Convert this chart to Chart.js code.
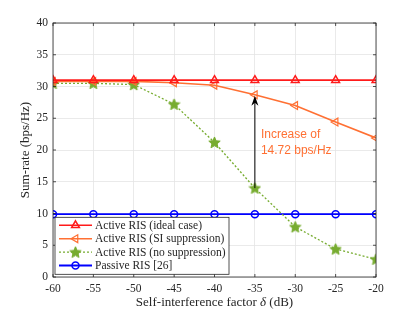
<!DOCTYPE html>
<html>
<head>
<meta charset="utf-8">
<script src="https://cdn.jsdelivr.net/npm/chart.js@4/dist/chart.umd.min.js"></script>
<style>
  html, body { margin: 0; padding: 0; background: #fff; }
  #wrap { width: 415px; height: 312px; }
</style>
</head>
<body>
<div id="wrap"><canvas id="chart" width="415" height="312"></canvas></div>
<script>
// Data
const deltaDb = [-60, -55, -50, -45, -40, -35, -30, -25, -20];
const idealCase = [31.0, 31.0, 31.0, 31.0, 31.0, 31.0, 31.0, 31.0, 31.0];
const siSuppression = [30.8, 30.8, 30.8, 30.6, 30.2, 28.7, 27.0, 24.4, 21.9];
const noSuppression = [30.5, 30.5, 30.3, 27.2, 21.2, 14.0, 7.9, 4.4, 2.8];
const passiveRis = [9.9, 9.9, 9.9, 9.9, 9.9, 9.9, 9.9, 9.9, 9.9];
const xTicks = [-60, -55, -50, -45, -40, -35, -30, -25, -20];
const yTicks = [0, 5, 10, 15, 20, 25, 30, 35, 40];
const seriesLabels = ['Active RIS (ideal case)', 'Active RIS (SI suppression)', 'Active RIS (no suppression)', 'Passive RIS [26]'];
const arrowAt = -35;
const noteLines = ['Increase of', '14.72 bps/Hz'];

const serif = '"Liberation Serif", "DejaVu Serif", serif';
const TXT = '#262626';
const RED = '#ff1a1a', ORANGE = '#ff7033', GREEN = '#77ac30', BLUE = '#0000ff';

function pts(ys) { return deltaDb.map((x, i) => ({ x: x, y: ys[i] })); }

// five-pointed filled star as point style
function makeStar(size, color) {
  const c = document.createElement('canvas');
  c.width = size; c.height = size;
  const g = c.getContext('2d');
  const cx = size / 2, cy = size / 2 + 0.5, ro = size / 2 - 0.5, ri = ro * 0.45;
  g.beginPath();
  for (let k = 0; k < 10; k++) {
    const r = k % 2 ? ri : ro;
    const a = -Math.PI / 2 + k * Math.PI / 5;
    g.lineTo(cx + r * Math.cos(a), cy + r * Math.sin(a));
  }
  g.closePath();
  g.fillStyle = color; g.fill();
  g.strokeStyle = color; g.lineWidth = 1; g.stroke();
  return c;
}
const starImg = makeStar(13, GREEN);

const datasets = [
  { label: seriesLabels[0], data: pts(idealCase), borderColor: RED, backgroundColor: 'rgba(0,0,0,0)',
    borderWidth: 1.6, pointStyle: 'triangle', pointRadius: 4.5, pointBorderWidth: 1.5, pointBorderColor: RED },
  { label: seriesLabels[1], data: pts(siSuppression), borderColor: ORANGE, backgroundColor: 'rgba(0,0,0,0)',
    borderWidth: 1.6, pointStyle: 'triangle', rotation: -90, pointRadius: 4.5, pointBorderWidth: 1.2, pointBorderColor: ORANGE },
  { label: seriesLabels[2], data: pts(noSuppression), borderColor: GREEN, backgroundColor: GREEN,
    borderWidth: 1.3, borderDash: [2, 2], pointStyle: starImg, pointRadius: 6 },
  { label: seriesLabels[3], data: pts(passiveRis), borderColor: BLUE, backgroundColor: 'rgba(0,0,0,0)',
    borderWidth: 1.8, pointStyle: 'circle', pointRadius: 3.5, pointBorderWidth: 1.5, pointBorderColor: BLUE }
];

// frame, axis titles, arrow, annotation and in-plot legend
const extras = {
  id: 'extras',
  afterDatasetsDraw(chart) {
    const ctx = chart.ctx, a = chart.chartArea;
    const xs = chart.scales.x, ys = chart.scales.y;
    ctx.save();
    // frame
    ctx.strokeStyle = TXT; ctx.lineWidth = 0.8;
    ctx.strokeRect(a.left, a.top, a.right - a.left, a.bottom - a.top);
    // inward ticks
    ctx.beginPath();
    xTicks.forEach(v => {
      const px = xs.getPixelForValue(v);
      ctx.moveTo(px, a.bottom); ctx.lineTo(px, a.bottom - 3);
      ctx.moveTo(px, a.top); ctx.lineTo(px, a.top + 3);
    });
    yTicks.forEach(v => {
      const py = ys.getPixelForValue(v);
      ctx.moveTo(a.left, py); ctx.lineTo(a.left + 3, py);
      ctx.moveTo(a.right, py); ctx.lineTo(a.right - 3, py);
    });
    ctx.stroke();

    // axis titles (x title has an italic delta)
    ctx.fillStyle = TXT;
    ctx.textBaseline = 'middle';
    const p1 = 'Self-interference factor ', p2 = 'δ', p3 = ' (dB)';
    const f = '13px ' + serif, fi = 'italic 13px ' + serif;
    ctx.font = f; const w1 = ctx.measureText(p1).width, w3 = ctx.measureText(p3).width;
    ctx.font = fi; const w2 = ctx.measureText(p2).width;
    let tx = (a.left + a.right) / 2 - (w1 + w2 + w3) / 2;
    ctx.textAlign = 'left';
    ctx.font = f; ctx.fillText(p1, tx, 303);
    ctx.font = fi; ctx.fillText(p2, tx + w1, 303);
    ctx.font = f; ctx.fillText(p3, tx + w1 + w2, 303);
    ctx.save();
    ctx.translate(26, (a.top + a.bottom) / 2);
    ctx.rotate(-Math.PI / 2);
    ctx.textAlign = 'center';
    ctx.font = f;
    ctx.fillText('Sum-rate (bps/Hz)', 0, 0);
    ctx.restore();

    // arrow between the two curves at arrowAt
    const i = deltaDb.indexOf(arrowAt);
    const ax = xs.getPixelForValue(arrowAt);
    const y0 = ys.getPixelForValue(noSuppression[i]);
    const y1 = ys.getPixelForValue(siSuppression[i]);
    ctx.strokeStyle = '#000'; ctx.fillStyle = '#000'; ctx.lineWidth = 1;
    ctx.beginPath(); ctx.moveTo(ax, y0); ctx.lineTo(ax, y1 + 6); ctx.stroke();
    ctx.beginPath();
    ctx.moveTo(ax, y1 + 1); ctx.lineTo(ax - 3.5, y1 + 11); ctx.lineTo(ax, y1 + 8); ctx.lineTo(ax + 3.5, y1 + 11);
    ctx.closePath(); ctx.fill();

    // annotation
    ctx.fillStyle = ORANGE;
    ctx.font = '12px "Liberation Sans", Arial, sans-serif';
    ctx.textBaseline = 'middle'; ctx.textAlign = 'left';
    ctx.fillText(noteLines[0], ax + 6, ys.getPixelForValue(22.4));
    ctx.fillText(noteLines[1], ax + 6, ys.getPixelForValue(19.9));

    // legend
    const lx = a.left + 2, ly = ys.getPixelForValue(9.4), lw = 174, lh = 57;
    ctx.fillStyle = '#fff';
    ctx.fillRect(lx, ly, lw, lh);
    ctx.strokeStyle = TXT; ctx.lineWidth = 0.8;
    ctx.strokeRect(lx, ly, lw, lh);
    ctx.font = '11.5px ' + serif;
    ctx.textBaseline = 'middle';
    chart.data.datasets.forEach((ds, k) => {
      const yy = ly + 8 + k * 13.4;
      ctx.strokeStyle = ds.borderColor; ctx.lineWidth = ds.borderWidth;
      ctx.setLineDash(ds.borderDash || []);
      ctx.beginPath(); ctx.moveTo(lx + 4, yy); ctx.lineTo(lx + 37, yy); ctx.stroke();
      ctx.setLineDash([]);
      ctx.strokeStyle = ds.pointBorderColor || ds.borderColor;
      ctx.fillStyle = ds.backgroundColor;
      ctx.lineWidth = ds.pointBorderWidth || 1;
      Chart.helpers.drawPoint(ctx, {
        pointStyle: ds.pointStyle, rotation: ds.rotation || 0, radius: ds.pointRadius,
        borderWidth: ds.pointBorderWidth || 1
      }, lx + 20.5, yy);
      ctx.fillStyle = TXT;
      ctx.fillText(ds.label, lx + 40, yy + 0.5);
    });
    ctx.restore();
  }
};

new Chart(document.getElementById('chart').getContext('2d'), {
  type: 'line',
  data: { datasets: datasets },
  options: {
    responsive: false,
    animation: false,
    layout: { padding: { top: 23, right: 39, left: 0, bottom: 0 } },
    plugins: { legend: { display: false }, tooltip: { enabled: false } },
    scales: {
      x: {
        type: 'linear', min: -60, max: -20,
        afterBuildTicks: s => { s.ticks = xTicks.map(v => ({ value: v })); },
        afterFit: s => { s.height = 35; },
        grid: { color: '#e5e5e5', lineWidth: 0.8, drawTicks: false },
        border: { display: false },
        ticks: { color: TXT, padding: 5, maxRotation: 0, font: { family: serif, size: 11.5 },
                 callback: v => String(v) }
      },
      y: {
        min: 0, max: 40,
        afterBuildTicks: s => { s.ticks = yTicks.map(v => ({ value: v })); },
        afterFit: s => { s.width = 53; },
        grid: { color: '#e5e5e5', lineWidth: 0.8, drawTicks: false },
        border: { display: false },
        ticks: { color: TXT, padding: 5, font: { family: serif, size: 11.5 } }
      }
    }
  },
  plugins: [extras]
});
</script>
</body>
</html>
